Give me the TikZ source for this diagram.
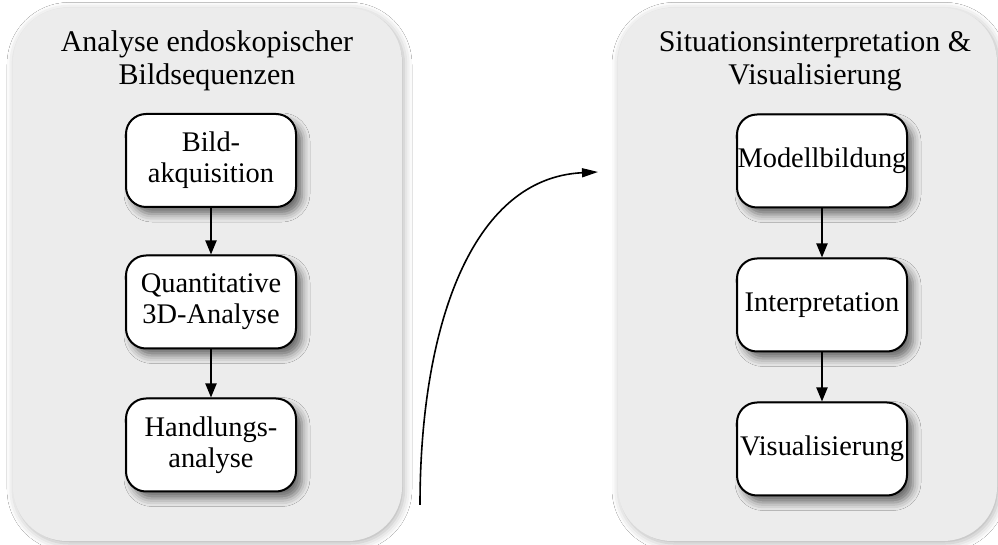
\documentclass[tikz,border=0pt]{standalone}
\usepackage{fontspec}
\setmainfont{Liberation Serif}
\usetikzlibrary{arrows.meta,shadows.blur}
\definecolor{panelgray}{RGB}{236,236,236}
\begin{document}
\begin{tikzpicture}[x=0.5pt,y=-0.5pt,
  panel/.style={fill=panelgray, draw=none, rounded corners=27pt,
    blur shadow={shadow xshift=1pt, shadow yshift=-1.2pt, shadow blur radius=4pt, shadow opacity=30}},
  titletext/.style={align=center, font=\fontsize{15}{16.5}\selectfont, inner sep=0pt},
  stepbox/.style={draw=black, line width=1pt, fill=white, rounded corners=10pt,
    minimum width=85pt, minimum height=46.5pt, inner sep=0pt, align=center,
    font=\fontsize{14.2}{15.5}\selectfont,
    blur shadow={shadow xshift=3pt, shadow yshift=-3.5pt, shadow blur radius=4pt, shadow opacity=55}},
  flow/.style={line width=1pt, -{Triangle[length=7pt,width=5.5pt]}},
  curvearrow/.style={line width=0.8pt, -{Triangle[length=8pt,width=4.5pt]}}
]
\useasboundingbox (0,0) rectangle (998,545);
\fill[white] (0,0) rectangle (998,545);
% panels
\node[panel, minimum width=194.5pt, minimum height=266.5pt] (lp) at (207.5,274.5) {};
\node[panel, minimum width=189.5pt, minimum height=266.5pt] (rp) at (807.5,274.5) {};
% titles
\node[titletext] (lt) at (207,61) {Analyse endoskopischer\\Bildsequenzen};
\node[titletext] (rt) at (815,61) {Situationsinterpretation \&\\Visualisierung};
% left column
\node[stepbox] (b1) at (211,160.5) {Bild-\\akquisition};
\node[stepbox] (b2) at (211,302) {Quantitative\\3D-Analyse};
\node[stepbox] (b3) at (211,445) {Handlungs-\\analyse};
% right column
\node[stepbox] (m1) at (822,161) {Modellbildung};
\node[stepbox] (m2) at (822,305) {Interpretation};
\node[stepbox] (m3) at (822,449) {Visualisierung};
% arrows
\draw[flow] (b1) -- (b2);
\draw[flow] (b2) -- (b3);
\draw[flow] (m1) -- (m2);
\draw[flow] (m2) -- (m3);
% curved arrow
\coordinate (cs) at (420,505);
\coordinate (ce) at (598,172);
\draw[curvearrow] (cs) .. controls (420,330) and (470,178) .. (ce);
\end{tikzpicture}
\end{document}
